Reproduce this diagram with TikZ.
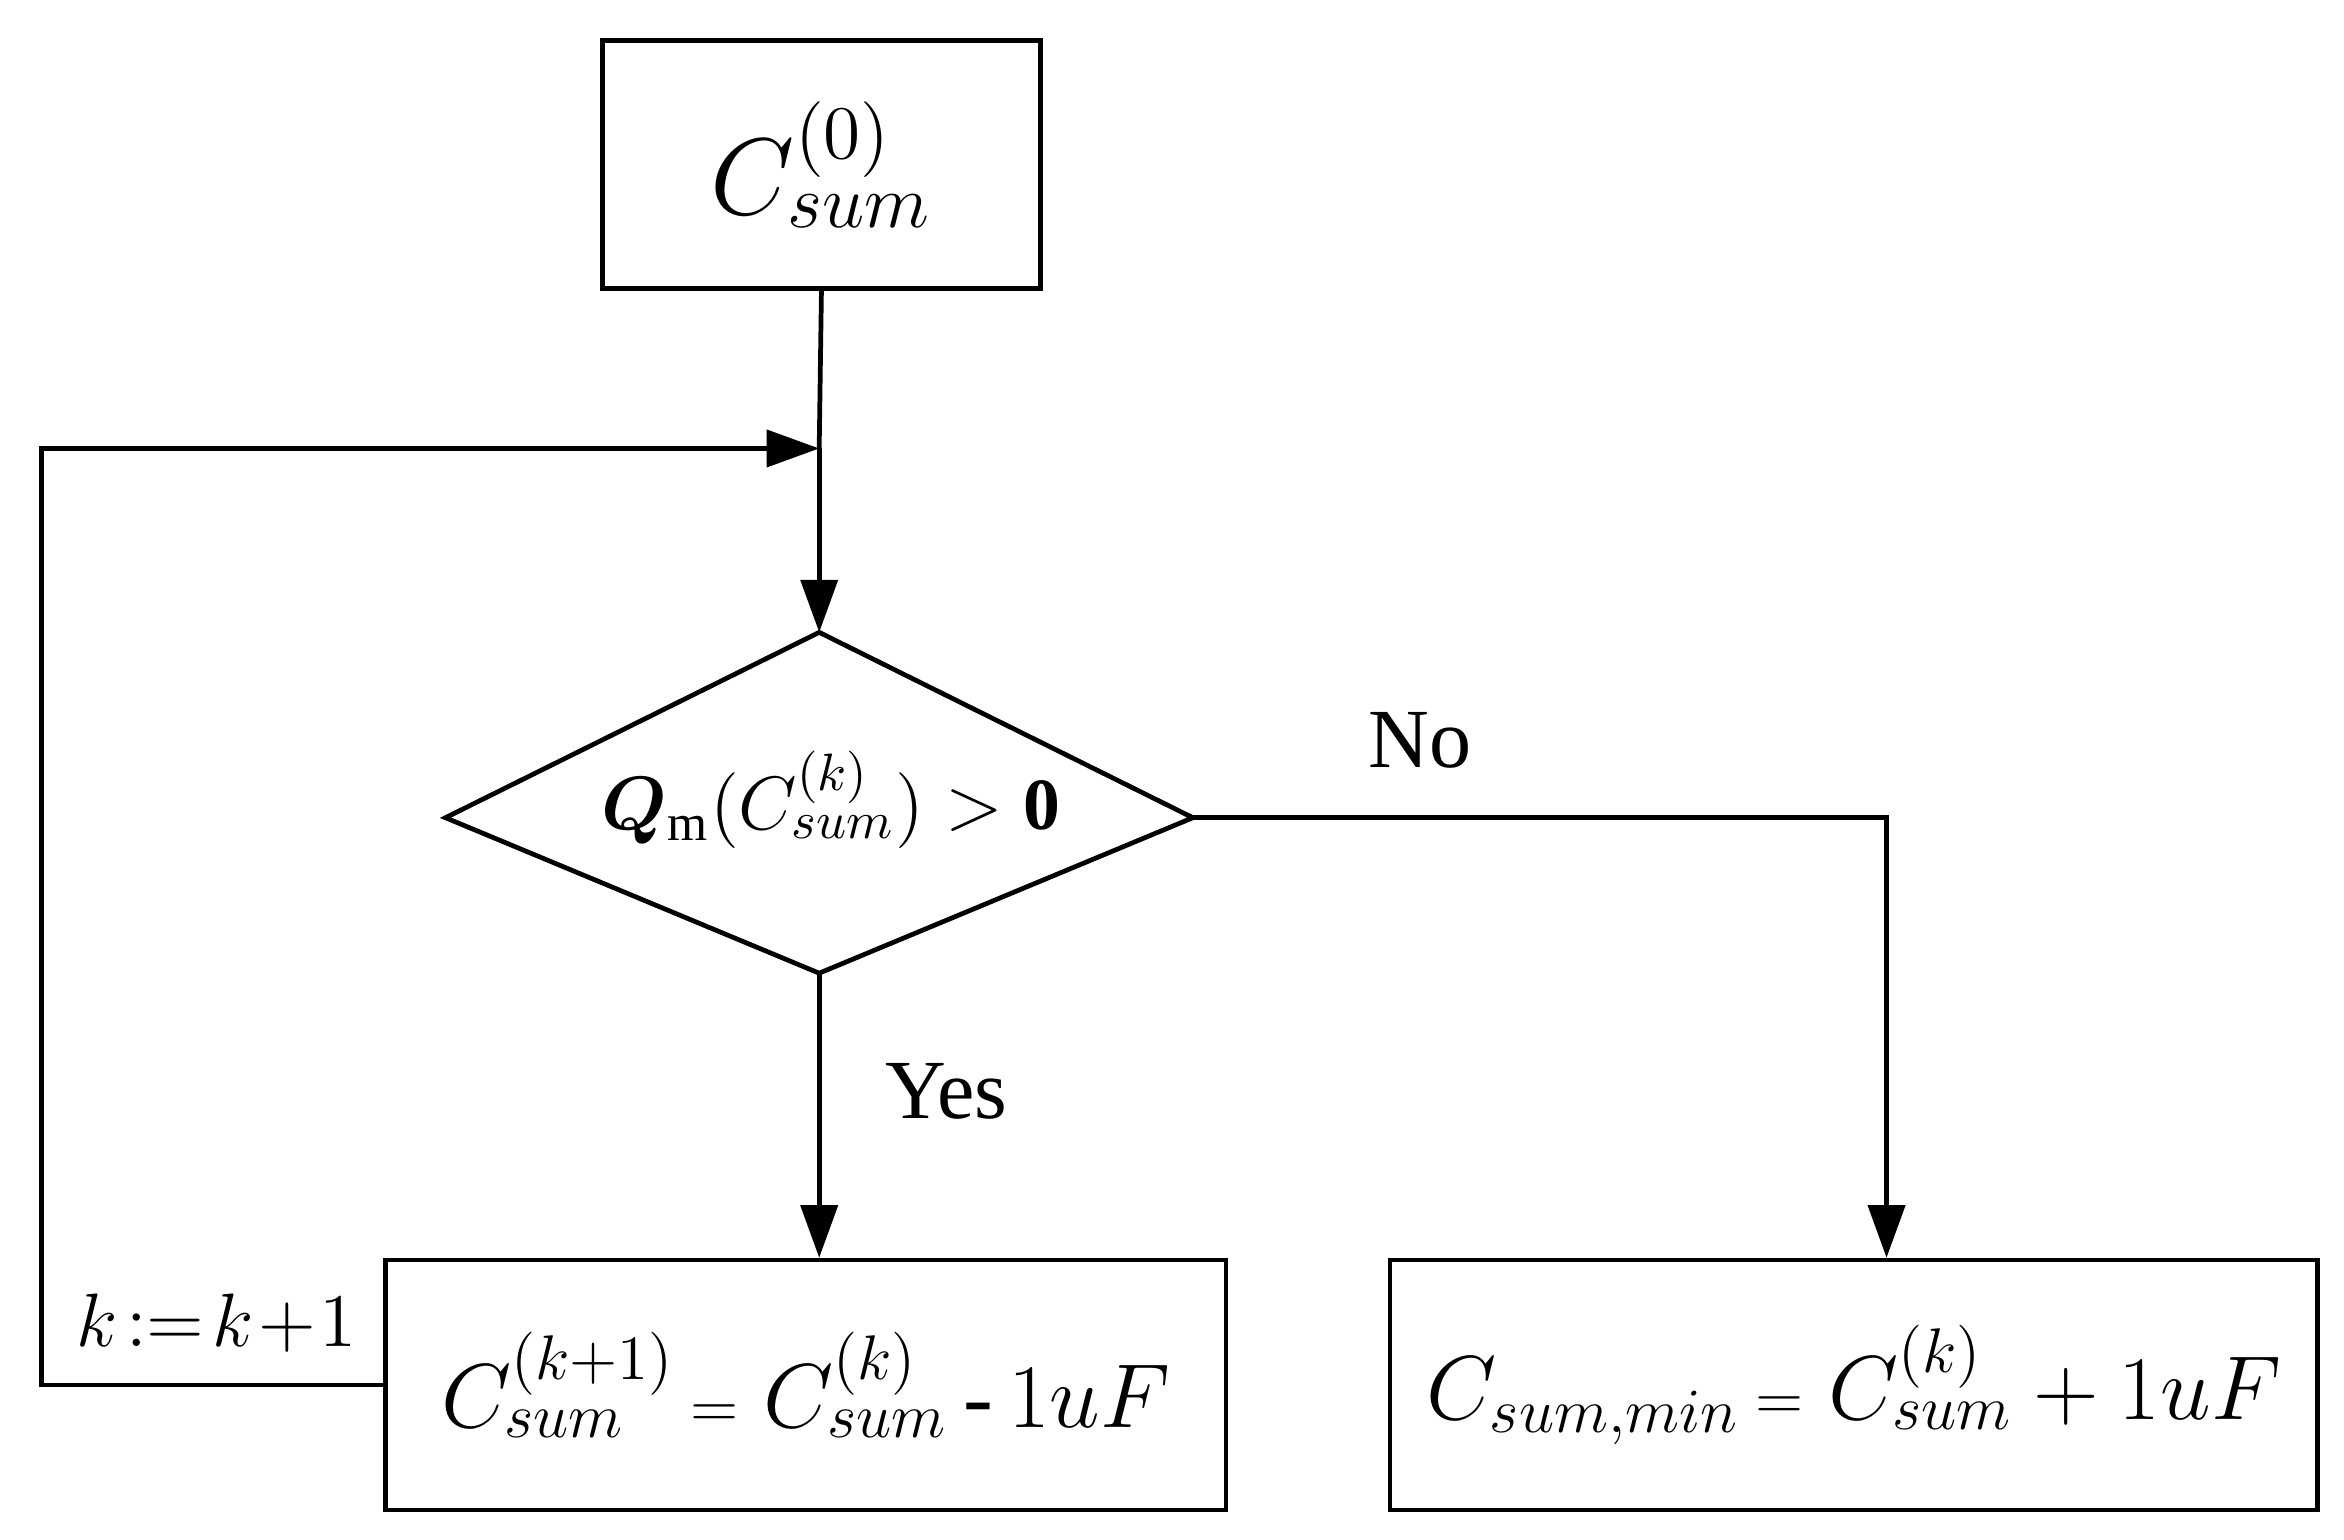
\documentclass[tikz,border=0pt]{standalone}
\usepackage{amsmath,bm}
\usepackage{fontspec}
\setmainfont{Liberation Serif}
\usetikzlibrary{shapes.geometric,arrows.meta}
\begin{document}
\begin{tikzpicture}[x=0.01cm,y=-0.01cm,
  box/.style={draw,line width=0.9pt,inner sep=0pt},
  ln/.style={line width=0.9pt},
  arr/.style={ln,-{Triangle[length=10pt,width=7pt]}},
  lab/.style={font=\fontsize{16}{19}\selectfont}]
\useasboundingbox (0,0) rectangle (1568,1030);
\node[box,minimum width=2.93cm,minimum height=1.66cm,font=\fontsize{20}{24}\selectfont] (top) at (549.5,110) {$C_{sum}^{(0)}$};
\coordinate (dt) at (548,423);
\coordinate (db) at (548,651);
\coordinate (dl) at (298,547);
\coordinate (dr) at (798,547);
\draw[ln] (dt) -- (dr) -- (db) -- (dl) -- cycle;
\node[font=\fontsize{14}{17}\selectfont] (dec) at (556,535) {$\bm{Q}_{\mathrm{m}}(C^{(k)}_{sum})>\mathbf{0}$};
\node[box,minimum width=5.62cm,minimum height=1.67cm,font=\fontsize{17}{20}\selectfont] (L) at (539,926.5) {$C_{sum}^{(k+1)}\,{\scriptstyle=}\;C_{sum}^{(k)}\,\text{-}\,1uF$};
\node[box,minimum width=6.2cm,minimum height=1.67cm,font=\fontsize{17}{20}\selectfont] (R) at (1240,926.5) {$C_{sum,min}\,{\scriptstyle=}\;C_{sum}^{(k)}+1uF$};
\coordinate (j) at (548,300);
\coordinate (c1) at (28,926.5);
\coordinate (c2) at (28,300);
\coordinate (c3) at (1262,547);
\draw[ln] (top.south) -- (j);
\draw[arr] (j) -- (dt);
\draw[arr] (L.west) -- (c1) -- (c2) -- (j);
\draw[arr] (db) -- (db |- L.north);
\draw[arr] (dr) -- (c3) -- (R.north -| c3);
\node[lab] (no) at (950,495) {No};
\node[lab] (yes) at (633,730) {Yes};
\node[font=\fontsize{15}{18}\selectfont] (k) at (145,885) {$k\!:=\!k\!+\!1$};
\end{tikzpicture}
\end{document}
